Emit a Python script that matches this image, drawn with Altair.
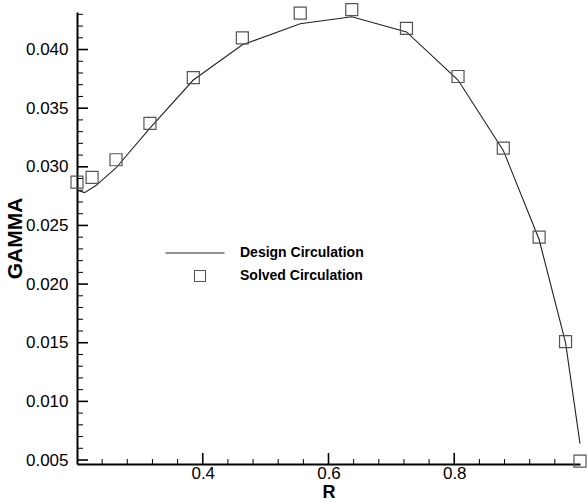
import altair as alt
import pandas as pd

# Design (prescribed) circulation distribution along the radius
design_r = [0.200, 0.212, 0.230, 0.262, 0.316, 0.385, 0.463, 0.555, 0.637,
            0.724, 0.806, 0.878, 0.935, 0.977, 1.000]
design_gamma = [0.0280, 0.0278, 0.0284, 0.0299, 0.0333, 0.0374, 0.0404, 0.0422,
                0.0428, 0.0415, 0.0374, 0.0314, 0.0238, 0.0150, 0.0064]

# Circulation obtained from the solver at the control points
solved_r = [0.200, 0.224, 0.262, 0.316, 0.385, 0.463, 0.555, 0.637, 0.724,
            0.806, 0.878, 0.935, 0.977, 1.000]
solved_gamma = [0.0287, 0.0291, 0.0306, 0.0337, 0.0376, 0.0410, 0.0431, 0.0434,
                0.0418, 0.0377, 0.0316, 0.0240, 0.0151, 0.0049]

# Axis tick positions (ticks point into the plot area)
x_major = [0.4, 0.6, 0.8]
x_minor = [0.24, 0.28, 0.32, 0.36, 0.44, 0.48, 0.52, 0.56, 0.64, 0.68, 0.72,
           0.76, 0.84, 0.88, 0.92, 0.96]
y_major = [0.005, 0.010, 0.015, 0.020, 0.025, 0.030, 0.035, 0.040]
y_minor = [round(0.001 * i, 3) for i in range(5, 44) if i % 5]

W, H = 503, 452
FONT = "Liberation Sans"

design = pd.DataFrame({"r": design_r, "gamma": design_gamma,
                       "series": "Design Circulation"})
solved = pd.DataFrame({"r": solved_r, "gamma": solved_gamma,
                       "series": "Solved Circulation"})

xs = alt.Scale(domain=[0.2, 1.0], nice=False, zero=False)
ys = alt.Scale(domain=[0.00466, 0.0432], nice=False, zero=False)

x_axis = alt.Axis(values=x_major, format=".1f", ticks=False, tickSize=0,
                  grid=False, domainColor="black", domainWidth=2,
                  labelFont=FONT, labelFontSize=17, labelColor="black",
                  labelPadding=1, title="R", titleFont=FONT, titleFontSize=18,
                  titleFontWeight="bold", titleColor="black",
                  titleBaseline="alphabetic", titleY=33)
y_axis = alt.Axis(values=y_major, format=".3f", ticks=False, tickSize=0,
                  grid=False, domainColor="black", domainWidth=2,
                  labelFont=FONT, labelFontSize=17, labelColor="black",
                  labelPadding=9, title="GAMMA", titleFont=FONT,
                  titleFontSize=21, titleFontWeight="bold", titleColor="black",
                  titlePadding=0)

line = alt.Chart(design).mark_line(strokeWidth=1.1).encode(
    x=alt.X("r:Q", scale=xs, axis=x_axis),
    y=alt.Y("gamma:Q", scale=ys, axis=y_axis),
    color=alt.Color("series:N",
                    scale=alt.Scale(domain=["Design Circulation"], range=["#222222"]),
                    legend=alt.Legend(orient="none", legendX=88, legendY=211,
                                      title=None, symbolType="stroke",
                                      symbolSize=3481, symbolStrokeWidth=1,
                                      labelFont=FONT, labelFontSize=14,
                                      labelFontWeight="bold", labelColor="black",
                                      labelOffset=15, padding=0)),
)

points = alt.Chart(solved).mark_point(size=144, filled=False, strokeWidth=1.2,
                                      color="#555555", opacity=1).encode(
    x=alt.X("r:Q", scale=xs),
    y=alt.Y("gamma:Q", scale=ys),
    shape=alt.Shape("series:N",
                    scale=alt.Scale(domain=["Solved Circulation"], range=["square"]),
                    legend=alt.Legend(orient="none", legendX=116, legendY=257,
                                      title=None, symbolSize=121,
                                      symbolStrokeColor="#555555",
                                      symbolFillColor="transparent",
                                      symbolStrokeWidth=1.1,
                                      labelFont=FONT, labelFontSize=14,
                                      labelFontWeight="bold", labelColor="black",
                                      labelOffset=33, padding=0)),
)

xmaj = alt.Chart(pd.DataFrame({"v": x_major})).mark_rule(color="black", strokeWidth=1.6).encode(
    x=alt.X("v:Q", scale=xs), y=alt.value(H), y2=alt.value(H - 11))
xmin = alt.Chart(pd.DataFrame({"v": x_minor})).mark_rule(color="black", strokeWidth=1).encode(
    x=alt.X("v:Q", scale=xs), y=alt.value(H), y2=alt.value(H - 5))
ymaj = alt.Chart(pd.DataFrame({"v": y_major})).mark_rule(color="black", strokeWidth=1.6).encode(
    y=alt.Y("v:Q", scale=ys), x=alt.value(0), x2=alt.value(11))
ymin = alt.Chart(pd.DataFrame({"v": y_minor})).mark_rule(color="black", strokeWidth=1).encode(
    y=alt.Y("v:Q", scale=ys), x=alt.value(0), x2=alt.value(6))

chart = alt.layer(xmin, xmaj, ymin, ymaj, line, points).resolve_legend(
    color="independent", shape="independent"
).properties(
    width=W, height=H,
    autosize=alt.AutoSizeParams(type="none"),
    padding={"left": 77, "top": 12, "right": 7, "bottom": 38},
    background="white",
).configure_view(stroke=None)

chart.save("out.html", embed_options={"renderer": "svg", "actions": False})
